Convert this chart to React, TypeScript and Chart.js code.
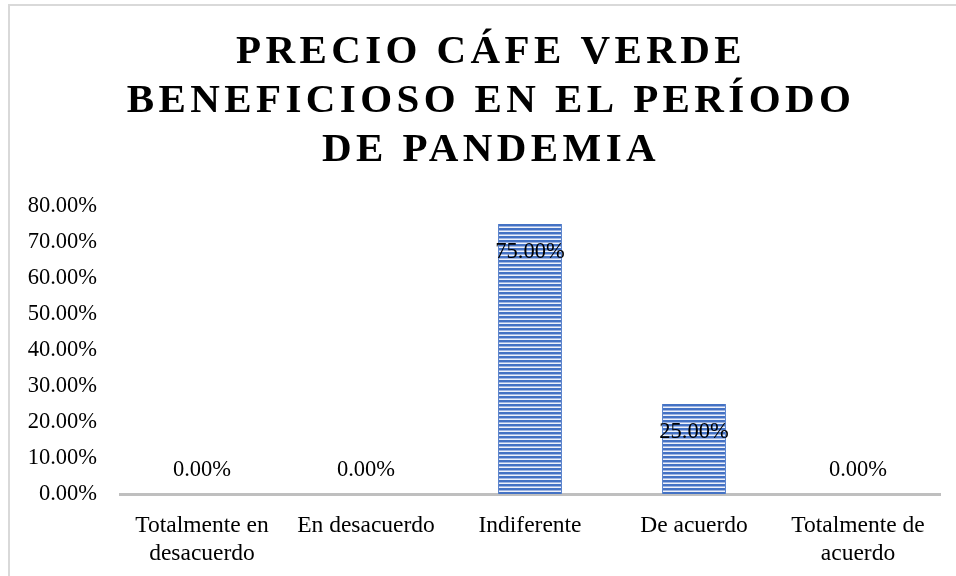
import React, { useEffect, useRef } from "react";
import { Chart, registerables } from "chart.js";

Chart.register(...registerables);

const TITLE_LINES = ["PRECIO CÁFE VERDE", "BENEFICIOSO EN EL PERÍODO", "DE PANDEMIA"];
const CATEGORIES: (string | string[])[] = [
  ["Totalmente en", "desacuerdo"],
  "En desacuerdo",
  "Indiferente",
  "De acuerdo",
  ["Totalmente de", "acuerdo"],
];
const VALUES = [0, 0, 75, 25, 0];
const Y_MAX = 80;
const Y_STEP = 10;

const FONT = '"Liberation Serif", "Times New Roman", serif';

function makePattern(): CanvasPattern | string {
  const c = document.createElement("canvas");
  c.width = 4;
  c.height = 4;
  const g = c.getContext("2d");
  if (!g) return "#4472C4";
  g.fillStyle = "#4472C4";
  g.fillRect(0, 0, 4, 2);
  g.fillStyle = "#9fb5e2";
  g.fillRect(0, 2, 4, 1);
  g.fillStyle = "#eef2fa";
  g.fillRect(0, 3, 4, 1);
  const p = g.createPattern(c, "repeat");
  return p || "#4472C4";
}

const titlePlugin = {
  id: "customTitle",
  afterDraw(chart: any) {
    const ctx = chart.ctx as CanvasRenderingContext2D;
    ctx.save();
    ctx.font = `bold 41px ${FONT}`;
    (ctx as any).letterSpacing = "4.4px";
    ctx.fillStyle = "#000";
    ctx.textAlign = "center";
    ctx.textBaseline = "alphabetic";
    const baselines = [63, 112, 161];
    TITLE_LINES.forEach((line, i) => {
      ctx.fillText(line, 491, baselines[i]);
    });
    ctx.restore();
  },
};

const labelPlugin = {
  id: "valueLabels",
  afterDatasetsDraw(chart: any) {
    const ctx = chart.ctx as CanvasRenderingContext2D;
    const meta = chart.getDatasetMeta(0);
    ctx.save();
    ctx.font = `22.5px ${FONT}`;
    ctx.fillStyle = "#000";
    ctx.textAlign = "center";
    ctx.textBaseline = "middle";
    meta.data.forEach((bar: any, i: number) => {
      const v = VALUES[i];
      const y = v > 0 ? bar.y + 28 : bar.base - 24;
      ctx.fillText(v.toFixed(2) + "%", bar.x, y);
    });
    ctx.restore();
  },
};

export default function App() {
  const ref = useRef<HTMLCanvasElement | null>(null);
  useEffect(() => {
    if (!ref.current) return;
    const pattern = makePattern();
    const chart = new Chart(ref.current, {
      type: "bar",
      data: {
        labels: CATEGORIES,
        datasets: [
          {
            data: VALUES,
            backgroundColor: pattern as any,
            borderColor: "#5b84cc",
            borderWidth: { left: 1, right: 1, top: 0, bottom: 0 } as any,
            borderSkipped: false,
            barPercentage: 0.39,
            categoryPercentage: 1,
          },
        ],
      },
      options: {
        responsive: false,
        animation: false,
        layout: { padding: { top: 206, right: 16, left: 0, bottom: 0 } },
        plugins: {
          legend: { display: false },
          title: { display: false },
          tooltip: { enabled: false },
        },
        scales: {
          x: {
            grid: { display: false, drawTicks: false },
            border: { display: true, color: "#BFBFBF", width: 3 },
            ticks: {
              color: "#000",
              font: { family: FONT, size: 23.5, lineHeight: 1.2 },
              padding: 18,
              maxRotation: 0,
              autoSkip: false,
            },
            afterFit(scale: any) {
              scale.height = 82;
            },
          },
          y: {
            min: 0,
            max: Y_MAX,
            grid: { display: false, drawTicks: false },
            border: { display: false },
            ticks: {
              stepSize: Y_STEP,
              color: "#000",
              font: { family: FONT, size: 22.5 },
              padding: 23,
              callback: (v: any) => Number(v).toFixed(2) + "%",
            },
            afterFit(scale: any) {
              scale.width = 120;
            },
          },
        },
      },
      plugins: [titlePlugin, labelPlugin],
    });
    return () => chart.destroy();
  }, []);

  return (
    <div
      style={{
        position: "fixed",
        left: 0,
        top: 0,
        width: 956,
        height: 576,
        overflow: "hidden",
        background: "#fff",
      }}
    >
      <div
        style={{
          position: "absolute",
          left: 8,
          top: 4,
          width: 1100,
          height: 700,
          borderTop: "2px solid #D9D9D9",
          borderLeft: "2px solid #D9D9D9",
        }}
      />
      <canvas
        ref={ref}
        width={956}
        height={576}
        style={{ position: "absolute", left: 0, top: 0, width: 956, height: 576 }}
      />
    </div>
  );
}
